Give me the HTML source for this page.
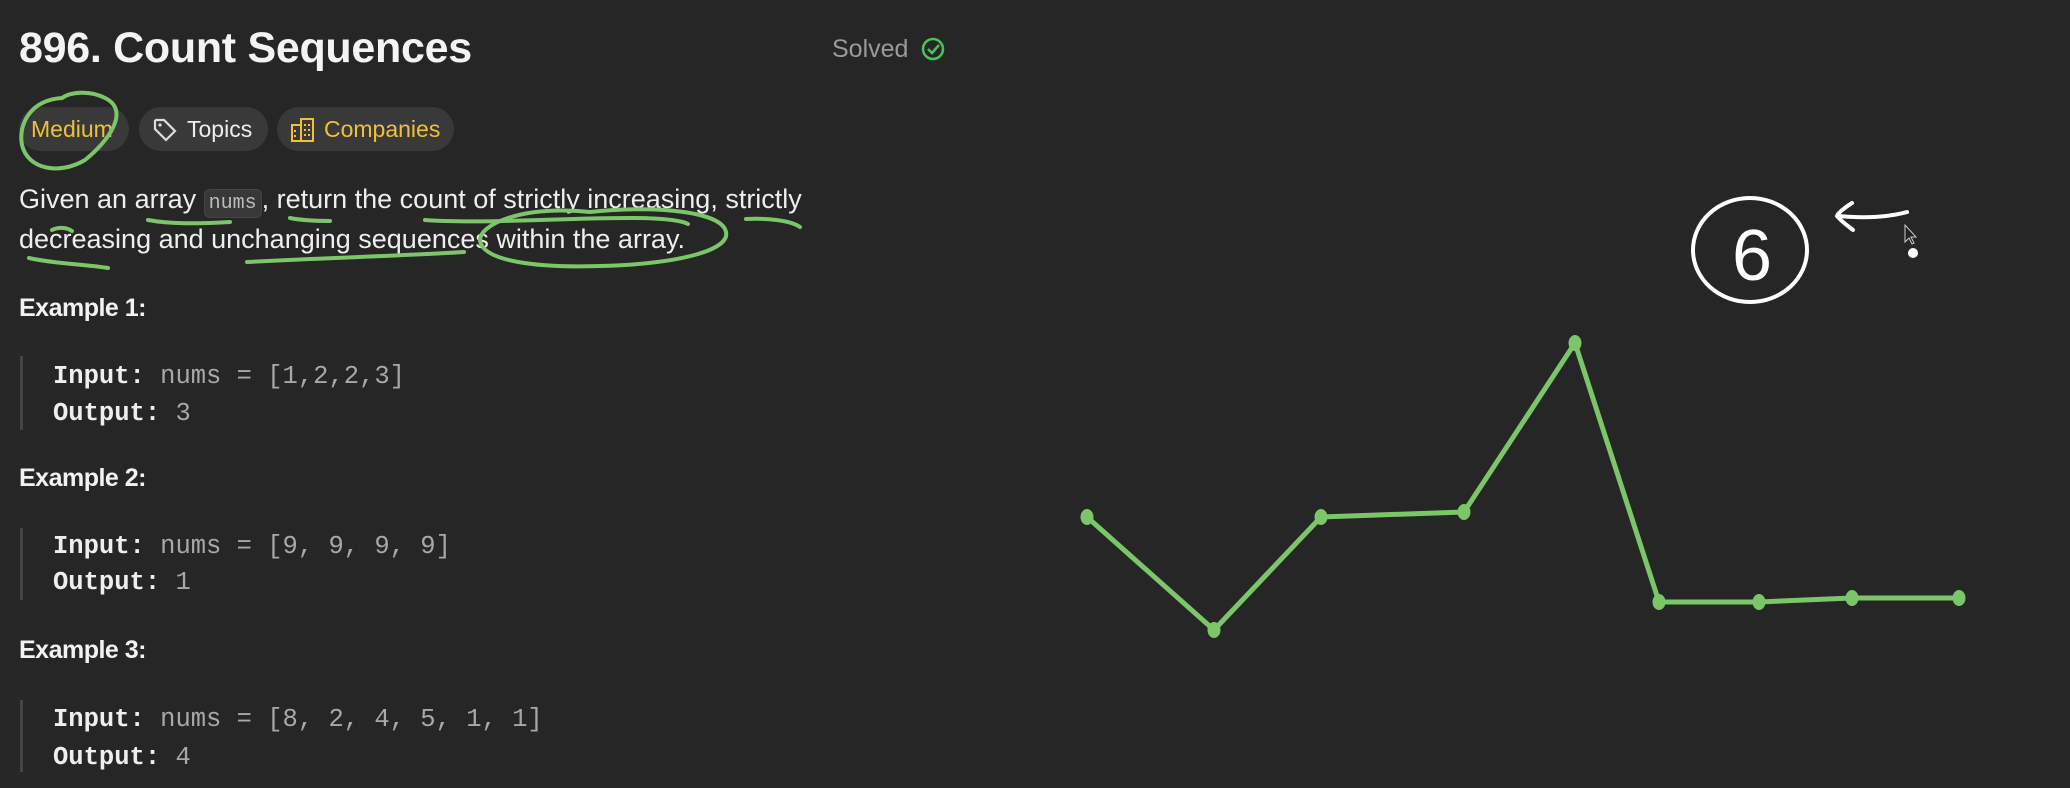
<!DOCTYPE html>
<html><head><meta charset="utf-8">
<style>
html,body{margin:0;padding:0;background:#262626;width:2070px;height:788px;overflow:hidden}
body{position:relative;font-family:"Liberation Sans",sans-serif;color:#eee}
.a{position:absolute;white-space:nowrap}
.pill{position:absolute;top:107px;height:44px;border-radius:22px;background:#393939;font-size:23px;line-height:44px;box-sizing:border-box;padding:0 12px}
.mono{font-family:"Liberation Mono",monospace;font-size:25.5px}
.bar{position:absolute;left:20px;width:3px;background:#444}
.ex{font-weight:bold;font-size:25px;color:#f2f2f2;letter-spacing:-0.5px}
.g{color:#a8a8a8}
</style></head><body>
<div class="a" style="left:19px;top:24px;font-size:43px;font-weight:bold;color:#f4f4f4;letter-spacing:-0.3px">896. Count Sequences</div>
<div class="a" style="left:832px;top:35px;font-size:25px;color:#9a9a9a">Solved</div>
<svg class="a" style="left:920px;top:36px" width="26" height="26"><circle cx="13" cy="13" r="10" fill="none" stroke="#4cc25a" stroke-width="2.5"/><path d="M8 13l4 4 7-8" fill="none" stroke="#4cc25a" stroke-width="2.5"/></svg>
<div class="pill" style="left:19px;width:110px;color:#f0c03a">Medium</div>
<div class="pill" style="left:139px;width:129px;color:#eee;padding-left:48px">Topics</div>
<svg class="a" style="left:152px;top:117px" width="26" height="26"><path d="M3 4v8l11 11 9-9L12 3H4z" fill="none" stroke="#ddd" stroke-width="2.2"/><circle cx="8" cy="8" r="1.6" fill="#ddd"/></svg>
<div class="pill" style="left:277px;width:177px;color:#f0c03a;padding-left:47px">Companies</div>
<svg class="a" style="left:290px;top:116px" width="26" height="28"><rect x="2" y="9" width="9" height="16" fill="none" stroke="#f0c03a" stroke-width="2"/><rect x="11" y="3" width="12" height="22" fill="none" stroke="#f0c03a" stroke-width="2"/><path d="M15 8v2M19 8v2M15 13v2M19 13v2M15 18v2M19 18v2M5 14v2M5 19v2" stroke="#f0c03a" stroke-width="2"/></svg>
<div class="a" style="left:19px;top:184px;font-size:27px;color:#eee">Given an array <span style="font-family:'Liberation Mono',monospace;font-size:20px;color:#bbb;background:#383838;border:1px solid #444;border-radius:6px;padding:2px 4px">nums</span>, return the count of strictly increasing, strictly</div>
<div class="a" style="left:19px;top:224px;font-size:27px;color:#eee">decreasing and unchanging sequences within the array.</div>
<div class="a ex" style="left:19px;top:294px">Example 1:</div>
<div class="bar" style="top:356px;height:74px"></div>
<div class="a mono" style="left:53px;top:362px"><b>Input:</b> <span class="g">nums = [1,2,2,3]</span></div>
<div class="a mono" style="left:53px;top:399px"><b>Output:</b> <span class="g">3</span></div>
<div class="a ex" style="left:19px;top:464px">Example 2:</div>
<div class="bar" style="top:528px;height:72px"></div>
<div class="a mono" style="left:53px;top:532px"><b>Input:</b> <span class="g">nums = [9, 9, 9, 9]</span></div>
<div class="a mono" style="left:53px;top:568px"><b>Output:</b> <span class="g">1</span></div>
<div class="a ex" style="left:19px;top:636px">Example 3:</div>
<div class="bar" style="top:700px;height:72px"></div>
<div class="a mono" style="left:53px;top:705px"><b>Input:</b> <span class="g">nums = [8, 2, 4, 5, 1, 1]</span></div>
<div class="a mono" style="left:53px;top:743px"><b>Output:</b> <span class="g">4</span></div>

<svg class="a" style="left:0;top:0" width="2070" height="788">
<g fill="none" stroke="#7cc66a" stroke-width="4" stroke-linecap="round">
<path d="M62 98 C30 100 18 125 22 145 C28 170 60 175 85 160 C110 140 130 110 105 98 C90 90 70 92 62 98"/>
<path d="M590 212 C520 205 480 225 480 240 C482 262 540 268 600 266 C680 264 730 250 726 232 C722 212 660 205 590 212"/>
<path d="M148 220 C170 224 195 224 230 222"/>
<path d="M290 218 C300 220 315 221 330 221"/>
<path d="M425 220 C480 224 560 218 630 218 C660 218 680 220 688 224"/>
<path d="M746 219 C765 218 790 220 800 227"/>
<path d="M29 258 C55 264 85 264 108 268"/>
<path d="M52 230 C58 227 66 227 72 231"/>
<path d="M247 262 C320 258 400 256 464 252"/>
</g>
<g fill="none" stroke="#fff" stroke-width="4" stroke-linecap="round">
<ellipse cx="1750" cy="250" rx="57" ry="52"/>
<path d="M1907 212 C1885 218 1860 218 1838 216 M1852 203 C1844 208 1837 214 1837 216 C1842 222 1848 226 1853 230"/>
</g>
<text x="1752" y="280" font-family="Liberation Sans, sans-serif" font-size="72" fill="#fff" text-anchor="middle">6</text>
<circle cx="1913" cy="253" r="5" fill="#fff"/>
<path d="M1905 225 l0 17 4-4 3 6 2-1-3-6 5 0z" fill="#222" stroke="#ccc" stroke-width="1"/>
<g id="chart"></g>
</svg>
<script>
const tValues = [0, 12.7, 23.4, 37.7, 48.8, 57.2, 67.2, 76.5, 87.2];
const seriesValues = [11.3, 0, 11.3, 11.8, 28.7, 2.8, 2.8, 3.2, 3.2];
function xScale(t){ return 1087 + t * 10; }
function yScale(v){ return 630 - v * 10; }
const NS = 'http://www.w3.org/2000/svg';
const g = document.getElementById('chart');
const pts = tValues.map((t,i)=>[xScale(t), yScale(seriesValues[i])]);
const line = document.createElementNS(NS,'polyline');


line.setAttribute('points', pts.map(p=>p.join(',')).join(' '));
line.setAttribute('fill','none');
line.setAttribute('stroke','#7cc66a');
line.setAttribute('stroke-width','5');
line.setAttribute('stroke-linejoin','round');
g.appendChild(line);
pts.forEach((p,i)=>{
  const c = document.createElementNS(NS,'ellipse');
  
  
  c.setAttribute('cx', p[0]); c.setAttribute('cy', p[1]);
  c.setAttribute('rx', 6.5); c.setAttribute('ry', 8);
  c.setAttribute('fill', '#7cc66a');
  g.appendChild(c);
});
</script>
</body></html>
